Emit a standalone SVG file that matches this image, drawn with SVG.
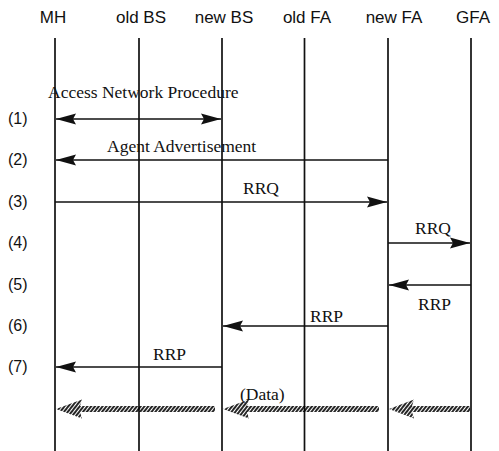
<svg xmlns="http://www.w3.org/2000/svg" width="499" height="451" viewBox="0 0 499 451">
<style>
.hdr{font-family:"Liberation Sans",Arial,sans-serif;font-size:17px;fill:#111;text-anchor:middle}
.row{font-family:"Liberation Sans",Arial,sans-serif;font-size:16px;fill:#111}
.msg{font-family:"Liberation Serif","Times New Roman",serif;font-size:17.5px;fill:#111}
.life{stroke:#111;stroke-width:1.7;fill:none}
.arr{stroke:#111;stroke-width:1.6;fill:none;marker-end:url(#ah)}
.dbl{stroke:#111;stroke-width:1.6;fill:none;marker-end:url(#ah);marker-start:url(#ah)}
.band{fill:url(#hatch)}
</style>
<defs>
<marker id="ah" viewBox="0 0 20 12" refX="20" refY="6" markerWidth="20" markerHeight="12" markerUnits="userSpaceOnUse" orient="auto-start-reverse">
<path d="M0,0.5 L20,6 L0,11.5 L3,6 z" fill="#111"/>
</marker>
<pattern id="hatch" width="3" height="10" patternUnits="userSpaceOnUse" patternTransform="rotate(38)">
<line x1="1" y1="0" x2="1" y2="10" stroke="#000" stroke-width="1.7"/>
</pattern>
</defs>
<g id="node-MH"><text class="hdr" x="53" y="23">MH</text><line class="life" x1="55" y1="38" x2="55" y2="451"/></g>
<g id="node-oldBS"><text class="hdr" x="141" y="23">old BS</text><line class="life" x1="139" y1="38" x2="139" y2="451"/></g>
<g id="node-newBS"><text class="hdr" x="224" y="23">new BS</text><line class="life" x1="222" y1="38" x2="222" y2="451"/></g>
<g id="node-oldFA"><text class="hdr" x="307" y="23">old FA</text><line class="life" x1="304.5" y1="38" x2="304.5" y2="451"/></g>
<g id="node-newFA"><text class="hdr" x="394" y="23">new FA</text><line class="life" x1="388" y1="38" x2="388" y2="451"/></g>
<g id="node-GFA"><text class="hdr" x="473" y="23">GFA</text><line class="life" x1="471" y1="38" x2="471" y2="451"/></g>
<g id="row-labels">
<text class="row" x="8" y="124">(1)</text>
<text class="row" x="8" y="165">(2)</text>
<text class="row" x="8" y="207">(3)</text>
<text class="row" x="8" y="248">(4)</text>
<text class="row" x="8" y="290">(5)</text>
<text class="row" x="8" y="331">(6)</text>
<text class="row" x="8" y="372">(7)</text>
</g>
<g id="connectors">
<line class="dbl" x1="56" y1="119" x2="221" y2="119"/>
<text class="msg" x="48" y="98">Access Network Procedure</text>
<line class="arr" x1="388" y1="160" x2="56" y2="160"/>
<text class="msg" x="107" y="152">Agent Advertisement</text>
<line class="arr" x1="55" y1="202" x2="387" y2="202"/>
<text class="msg" x="243" y="194">RRQ</text>
<line class="arr" x1="388" y1="243" x2="470" y2="243"/>
<text class="msg" x="415" y="234">RRQ</text>
<line class="arr" x1="471" y1="285" x2="389" y2="285"/>
<text class="msg" x="418" y="310">RRP</text>
<line class="arr" x1="388" y1="326" x2="223" y2="326"/>
<text class="msg" x="310" y="322">RRP</text>
<line class="arr" x1="222" y1="367" x2="56" y2="367"/>
<text class="msg" x="153" y="360">RRP</text>
<g id="data-arrows">
<polygon class="band" points="56,409 82,399.5 80,406 215,406 215,412 80,412 82,418.5"/>
<polygon class="band" points="223,409 249,399.5 247,406 379,406 379,412 247,412 249,418.5"/>
<polygon class="band" points="389,409 414,399.5 412,406 470,406 470,412 412,412 414,418.5"/>
</g>
<text class="msg" x="240" y="400">(Data)</text>
</g>
</svg>
